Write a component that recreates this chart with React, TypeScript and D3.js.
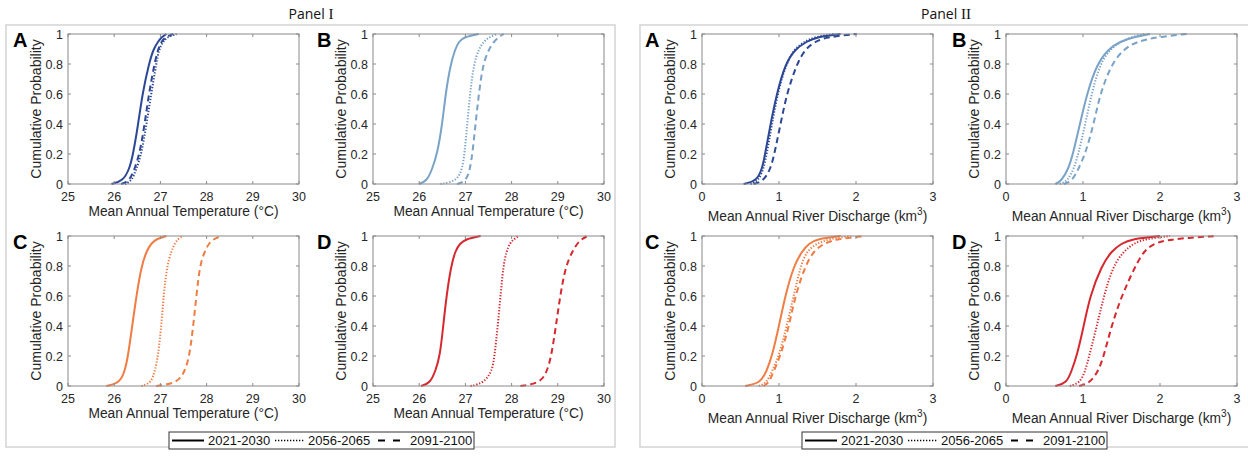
import React from "react";
import * as d3 from "d3";

// ---------- data ----------
const PROBS = [0, 0.02, 0.1, 0.2, 0.4, 0.6, 0.8, 0.9, 0.95, 0.98, 1];
const PROB_TICKS = [0, 0.2, 0.4, 0.6, 0.8, 1];
const PROB_TICK_LABELS = ["0", "0.2", "0.4", "0.6", "0.8", "1"];
const TEMP_TICKS = [25, 26, 27, 28, 29, 30];
const DIS_TICKS = [0, 1, 2, 3];
const PERIODS = ["2021-2030", "2056-2065", "2091-2100"];
const SUB_LETTERS = ["A", "B", "C", "D"];
const PANEL_TITLES = ["Panel ", "Panel "];
const PANEL_NUMERALS = ["I", "II"];

// Panel I: Mean annual temperature (°C), quantiles at PROBS
const tempA_2021 = [25.94, 26.19, 26.33, 26.41, 26.52, 26.61, 26.75, 26.85, 26.95, 27.03, 27.13];
const tempA_2056 = [26.23, 26.38, 26.48, 26.59, 26.70, 26.80, 26.91, 26.97, 27.06, 27.15, 27.35];
const tempA_2091 = [26.15, 26.33, 26.44, 26.55, 26.66, 26.75, 26.87, 26.95, 27.02, 27.12, 27.27];

const tempB_2021 = [25.99, 26.17, 26.28, 26.39, 26.50, 26.57, 26.68, 26.78, 26.86, 26.97, 27.29];
const tempB_2056 = [26.46, 26.82, 26.93, 26.98, 27.04, 27.10, 27.18, 27.29, 27.40, 27.52, 27.69];
const tempB_2091 = [26.82, 27.02, 27.10, 27.15, 27.22, 27.29, 27.38, 27.51, 27.62, 27.72, 27.83];

const tempC_2021 = [25.83, 26.12, 26.23, 26.30, 26.39, 26.48, 26.59, 26.70, 26.80, 26.91, 27.13];
const tempC_2056 = [26.59, 26.80, 26.88, 26.95, 27.02, 27.07, 27.14, 27.24, 27.31, 27.38, 27.49];
const tempC_2091 = [26.91, 27.38, 27.53, 27.63, 27.71, 27.78, 27.85, 27.96, 28.05, 28.15, 28.32];

const tempD_2021 = [26.04, 26.24, 26.35, 26.45, 26.52, 26.59, 26.69, 26.78, 26.88, 27.01, 27.33];
const tempD_2056 = [27.11, 27.40, 27.58, 27.63, 27.70, 27.76, 27.82, 27.89, 27.96, 28.05, 28.16];
const tempD_2091 = [28.19, 28.63, 28.77, 28.86, 28.96, 29.05, 29.17, 29.32, 29.42, 29.52, 29.64];

// Panel II: Mean annual river discharge (km³), quantiles at PROBS
const disA_2021 = [0.54, 0.71, 0.78, 0.82, 0.89, 0.97, 1.08, 1.21, 1.36, 1.49, 1.80];
const disA_2056 = [0.63, 0.73, 0.80, 0.84, 0.91, 0.98, 1.09, 1.20, 1.33, 1.46, 1.71];
const disA_2091 = [0.67, 0.80, 0.89, 0.94, 1.02, 1.10, 1.23, 1.34, 1.47, 1.62, 2.01];

const disB_2021 = [0.64, 0.72, 0.81, 0.87, 0.96, 1.05, 1.18, 1.33, 1.48, 1.66, 1.87];
const disB_2056 = [0.70, 0.80, 0.88, 0.94, 1.03, 1.11, 1.22, 1.35, 1.50, 1.63, 1.79];
const disB_2091 = [0.75, 0.86, 0.94, 1.03, 1.14, 1.22, 1.37, 1.53, 1.70, 1.96, 2.35];

const disC_2021 = [0.56, 0.76, 0.84, 0.91, 1.00, 1.08, 1.19, 1.30, 1.39, 1.49, 1.80];
const disC_2056 = [0.74, 0.84, 0.91, 1.00, 1.10, 1.19, 1.28, 1.36, 1.49, 1.65, 1.93];
const disC_2091 = [0.80, 0.87, 0.93, 1.02, 1.13, 1.21, 1.34, 1.45, 1.58, 1.75, 2.12];

const disD_2021 = [0.64, 0.79, 0.85, 0.92, 1.01, 1.09, 1.24, 1.37, 1.50, 1.63, 2.00];
const disD_2056 = [0.83, 0.96, 1.03, 1.08, 1.18, 1.27, 1.39, 1.53, 1.66, 1.80, 2.13];
const disD_2091 = [0.95, 1.09, 1.20, 1.27, 1.37, 1.50, 1.68, 1.79, 1.92, 2.13, 2.74];

// ---------- styles ----------
const COLORS = ["#2c4796", "#7aa3c8", "#ef7d44", "#d6282f"];
const DASHES = [null, "1.3 1.7", "6 4"];
const FONT = "'Liberation Sans', Arial, Helvetica, sans-serif";

const W = 1248;
const H = 456;

type Sub = {
  x0: number;
  y0: number;
  letter: string;
  color: string;
  kind: "temp" | "dis";
  curves: number[][];
  letterX: number;
};

const COLS_I = [68, 373];
const COLS_II = [702, 1006];
const ROWS = [34, 236];
const PW = 231;
const PH = 150;

const tempSets = [
  [tempA_2021, tempA_2056, tempA_2091],
  [tempB_2021, tempB_2056, tempB_2091],
  [tempC_2021, tempC_2056, tempC_2091],
  [tempD_2021, tempD_2056, tempD_2091],
];
const disSets = [
  [disA_2021, disA_2056, disA_2091],
  [disB_2021, disB_2056, disB_2091],
  [disC_2021, disC_2056, disC_2091],
  [disD_2021, disD_2056, disD_2091],
];

const subs: Sub[] = [];
for (let i = 0; i < 4; i++) {
  const r = Math.floor(i / 2);
  const c = i % 2;
  subs.push({
    x0: COLS_I[c],
    y0: ROWS[r],
    letter: SUB_LETTERS[i],
    color: COLORS[i],
    kind: "temp",
    curves: tempSets[i],
    letterX: c === 0 ? 13 : 317,
  });
  subs.push({
    x0: COLS_II[c],
    y0: ROWS[r],
    letter: SUB_LETTERS[i],
    color: COLORS[i],
    kind: "dis",
    curves: disSets[i],
    letterX: c === 0 ? 645 : 952,
  });
}

function SubPlot({ s }: { s: Sub }) {
  const ticks = s.kind === "temp" ? TEMP_TICKS : DIS_TICKS;
  const x = d3
    .scaleLinear()
    .domain([ticks[0], ticks[ticks.length - 1]])
    .range([s.x0, s.x0 + PW]);
  const y = d3.scaleLinear().domain([0, 1]).range([s.y0 + PH, s.y0]);
  const line = d3
    .line<[number, number]>()
    .x((d) => x(d[0]))
    .y((d) => y(d[1]))
    .curve(d3.curveBasis);
  const axisColor = "#8a8a8a";
  const tl = 3;
  const bottom = s.y0 + PH;
  const right = s.x0 + PW;
  return (
    <g>
      {s.curves.map((vals, k) => (
        <path
          key={k}
          d={line(vals.map((v, j) => [v, PROBS[j]] as [number, number])) || ""}
          fill="none"
          stroke={s.color}
          strokeWidth={2}
          strokeDasharray={DASHES[k] || undefined}
        />
      ))}
      <rect x={s.x0} y={s.y0} width={PW} height={PH} fill="none" stroke={axisColor} strokeWidth={1} />
      {ticks.map((t) => (
        <g key={"x" + t}>
          <line x1={x(t)} x2={x(t)} y1={bottom} y2={bottom - tl} stroke={axisColor} />
          <line x1={x(t)} x2={x(t)} y1={s.y0} y2={s.y0 + tl} stroke={axisColor} />
          <text x={x(t)} y={bottom + 17} textAnchor="middle" fontSize={12.5} fill="#262626" fontFamily={FONT}>
            {t}
          </text>
        </g>
      ))}
      {PROB_TICKS.map((t, j) => (
        <g key={"y" + t}>
          <line x1={s.x0} x2={s.x0 + tl} y1={y(t)} y2={y(t)} stroke={axisColor} />
          <line x1={right} x2={right - tl} y1={y(t)} y2={y(t)} stroke={axisColor} />
          <text x={s.x0 - 5} y={y(t) + 4.5} textAnchor="end" fontSize={12.5} fill="#262626" fontFamily={FONT}>
            {PROB_TICK_LABELS[j]}
          </text>
        </g>
      ))}
      <text
        transform={`translate(${s.x0 - 27},${s.y0 + PH / 2}) rotate(-90)`}
        textAnchor="middle"
        fontSize={14}
        fill="#262626"
        fontFamily={FONT}
      >
        Cumulative Probability
      </text>
      {s.kind === "temp" ? (
        <text x={s.x0 + PW / 2} y={bottom + 32} textAnchor="middle" fontSize={13.8} fill="#262626" fontFamily={FONT}>
          Mean Annual Temperature (°C)
        </text>
      ) : (
        <text x={s.x0 + PW / 2} y={bottom + 37} textAnchor="middle" fontSize={13.8} fill="#262626" fontFamily={FONT}>
          Mean Annual River Discharge (km
          <tspan dy={-6} fontSize={10}>3</tspan>
          <tspan dy={6}>)</tspan>
        </text>
      )}
      <text x={s.letterX} y={s.y0 + 13} fontSize={20} fontWeight="bold" fill="#000" fontFamily={FONT}>
        {s.letter}
      </text>
    </g>
  );
}

function Legend({ x0 }: { x0: number }) {
  const yTop = 432;
  const h = 17;
  const cy = yTop + h / 2;
  const samples = [
    { x1: 3, x2: 35, tx: 39 },
    { x1: 106, x2: 136, tx: 139 },
    { x1: 209, x2: 231, tx: 241 },
  ];
  return (
    <g>
      <rect x={x0} y={yTop} width={305} height={h} fill="#fff" stroke="#333" strokeWidth={1} />
      {samples.map((s, k) => (
        <g key={k}>
          <line
            x1={x0 + s.x1}
            x2={x0 + s.x2}
            y1={cy}
            y2={cy}
            stroke="#000"
            strokeWidth={k === 1 ? 1.3 : 2}
            strokeDasharray={k === 1 ? "1.3 1.7" : k === 2 ? "7 8" : undefined}
          />
          <text x={x0 + s.tx} y={cy + 4.5} fontSize={13} fill="#111" fontFamily={FONT}>
            {PERIODS[k]}
          </text>
        </g>
      ))}
    </g>
  );
}

export default function App() {
  return (
    <svg
      width={W}
      height={H}
      viewBox={`0 0 ${W} ${H}`}
      style={{ position: "absolute", left: 0, top: 0, background: "#fff" }}
    >
      <rect x={0} y={0} width={W} height={H} fill="#fff" />
      <rect x={6} y={25} width={609} height={422} fill="none" stroke="#d4d4d4" strokeWidth={1.5} />
      <rect x={640} y={25} width={610} height={422} fill="none" stroke="#d4d4d4" strokeWidth={1.5} />
      {[311, 946].map((cx, i) => (
        <text key={i} x={cx} y={19} textAnchor="middle" fontSize={14} fill="#111" fontFamily="'Open Sans', 'Noto Sans', sans-serif">
          {PANEL_TITLES[i]}
          <tspan fontFamily="'Liberation Serif', 'DejaVu Serif', serif" fontSize={15}>
            {PANEL_NUMERALS[i]}
          </tspan>
        </text>
      ))}
      {subs.map((s, i) => (
        <SubPlot key={i} s={s} />
      ))}
      <Legend x0={169} />
      <Legend x0={802} />
    </svg>
  );
}
